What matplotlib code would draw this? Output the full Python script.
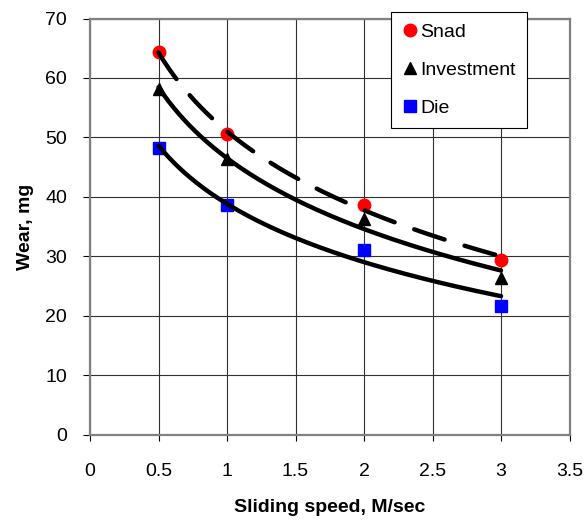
import numpy as np
import matplotlib
matplotlib.use("Agg")
import matplotlib.pyplot as plt

plt.rcParams['font.family'] = ['Liberation Sans', 'DejaVu Sans']

speed = [0.5, 1, 2, 3]
snad = [64.3, 50.6, 38.7, 29.4]
investment = [58.1, 46.4, 36.3, 26.3]
die = [48.2, 38.7, 31.1, 21.7]

W, H = 587, 520
fig = plt.figure(figsize=(W / 100, H / 100), dpi=100)
L, R, T, B = 90, 569.5, 18.5, 434.5
ax = fig.add_axes([L / W, 1 - B / H, (R - L) / W, (B - T) / H])

def log_fit(x, y):
    # Excel-style logarithmic trendline: y = a*ln(x) + b
    a, b = np.polyfit(np.log(x), y, 1)
    xs = np.linspace(min(x), max(x), 200)
    return xs, a * np.log(xs) + b

ax.plot(speed, snad, 'o', color='red', ms=9, label='Snad', zorder=3, clip_on=False)
ax.plot(speed, investment, '^', color='black', ms=9, label='Investment', zorder=3, clip_on=False)
ax.plot(speed, die, 's', color='blue', ms=8.5, mec='blue', label='Die', zorder=3, clip_on=False)

for y, dashed in [(snad, True), (investment, False), (die, False)]:
    xs, ys = log_fit(np.array(speed, float), np.array(y, float))
    line, = ax.plot(xs, ys, color='black', lw=3.2, zorder=4,
                    solid_capstyle='round', dash_capstyle='round')
    if dashed:
        line.set_dashes((7.2, 4.7))

ax.set_xlim(0, 3.5)
ax.set_ylim(0, 70)
ax.set_xticks(np.arange(0, 3.51, 0.5))
ax.set_xticklabels(['0', '0.5', '1', '1.5', '2', '2.5', '3', '3.5'])
ax.set_yticks(np.arange(0, 71, 10))
ax.grid(True, color='#303030', lw=0.8)
ax.set_axisbelow(True)
for s in ax.spines.values():
    s.set_color('#808080')
    s.set_linewidth(1.6)
ax.tick_params(axis='x', direction='out', length=4.5, width=0.8, labelsize=14, pad=16, color='black')
ax.tick_params(axis='y', direction='out', length=5, width=0.8, labelsize=14, pad=11.5, color='black')
ax.set_xlabel('Sliding speed, M/sec', fontsize=14, fontweight='bold', labelpad=13.5)
ax.set_ylabel('Wear, mg', fontsize=14, fontweight='bold', labelpad=8)

leg = fig.legend(loc='upper left', bbox_to_anchor=(391 / W, 1 - 12 / H), frameon=True,
                 fontsize=14, handlelength=0.82, handletextpad=0.1, labelspacing=1.06,
                 borderpad=0.57, fancybox=False, borderaxespad=0, framealpha=1)
leg.get_frame().set_edgecolor('black')
leg.get_frame().set_linewidth(0.8)

fig.savefig('out.png', dpi=100)
